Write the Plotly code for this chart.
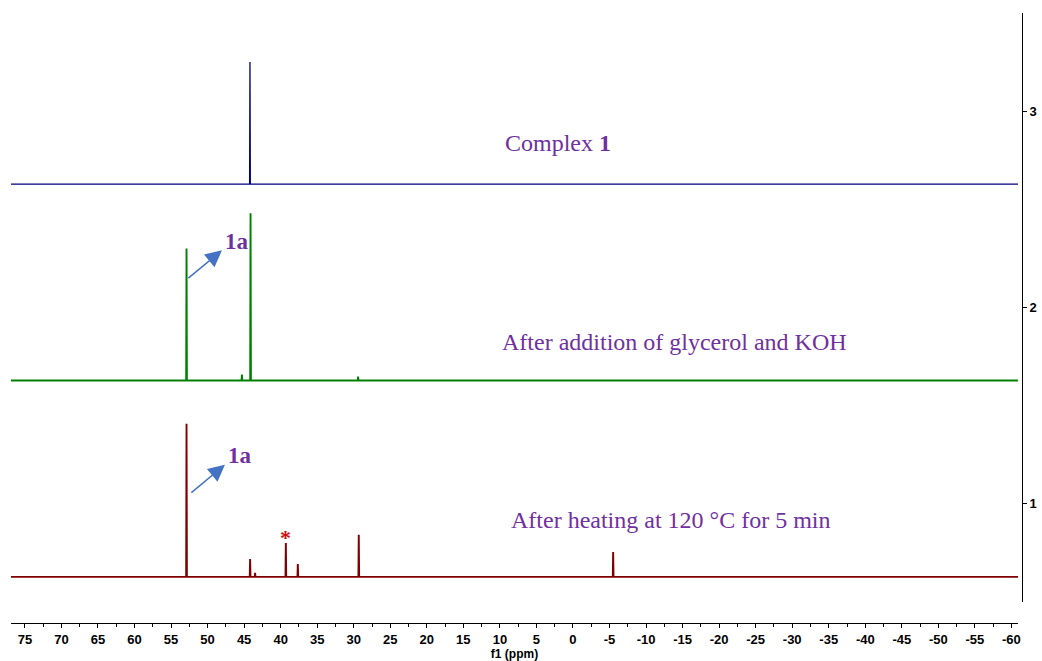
import plotly.graph_objects as go

# Chemical-shift window (ppm), plotted high -> low
ppm_left, ppm_right = 76.9, -60.9

# Stacked spectra: vertical offsets of each baseline
offsets = {"complex": 2.628, "glycerol": 1.628, "heated": 0.628}

# Peak positions (ppm) and intensities above the baseline
complex_ppm = [44.2]
complex_int = [0.622]

glycerol_ppm = [52.88, 45.3, 44.12, 29.4]
glycerol_int = [0.672, 0.03, 0.852, 0.02]

heated_ppm = [52.88, 44.18, 43.5, 39.29, 37.65, 29.31, -5.50]
heated_int = [0.780, 0.091, 0.02, 0.173, 0.066, 0.214, 0.127]

colors = {"complex": "#000080", "glycerol": "#008000", "heated": "#800000"}
widths = {"complex": 1.3, "glycerol": 1.9, "heated": 1.9}

x_tick_vals = list(range(75, -61, -5))
x_tick_text = [str(v) for v in x_tick_vals]  # plain hyphen for negatives
y_tick_vals = [1, 2, 3]

label_color = "#7030A0"
arrow_color = "#4472C4"
half_width = 0.05  # ppm, half base width of a peak


def spectrum_xy(ppm, inten, base):
    """Baseline with narrow spikes at each peak, ordered from high to low ppm."""
    xs, ys = [ppm_left], [base]
    for p, h in sorted(zip(ppm, inten), key=lambda t: -t[0]):
        xs += [p + half_width, p, p - half_width]
        ys += [base, base + h, base]
    xs.append(ppm_right)
    ys.append(base)
    return xs, ys


fig = go.Figure()
for key, ppm, inten in [("complex", complex_ppm, complex_int),
                        ("glycerol", glycerol_ppm, glycerol_int),
                        ("heated", heated_ppm, heated_int)]:
    xs, ys = spectrum_xy(ppm, inten, offsets[key])
    fig.add_trace(go.Scatter(x=xs, y=ys, mode="lines",
                             line=dict(color=colors[key], width=widths[key]),
                             showlegend=False, hoverinfo="skip"))

serif = "Liberation Serif, Times New Roman, serif"
sans_bold = dict(family="Liberation Sans, Arial, sans-serif", size=13,
                 color="black", weight="bold")
title_font = dict(family="Liberation Sans, Arial, sans-serif", size=12,
                  color="black", weight="bold")

annotations = [
    dict(x=2.08, y=2.838, text="Complex <b>1</b>"),
    dict(x=-13.93, y=1.822, text="After addition of glycerol and KOH"),
    dict(x=-13.45, y=0.919, text="After heating at 120 °C for 5 min"),
]
for a in annotations:
    fig.add_annotation(x=a["x"], y=a["y"], text=a["text"], showarrow=False,
                       xanchor="center", yanchor="middle",
                       font=dict(family=serif, size=24, color=label_color))

# "1a" labels with arrows pointing away from the product peak
for lx, ly, tip, tail in [(46.0, 2.336, (48.03, 2.291), (52.84, 2.143)),
                          (45.6, 1.245, (47.63, 1.199), (52.42, 1.051))]:
    fig.add_annotation(x=lx, y=ly, text="<b>1a</b>", showarrow=False,
                       xanchor="center", yanchor="middle",
                       font=dict(family=serif, size=23, color=label_color))
    fig.add_annotation(x=tip[0], y=tip[1], ax=tail[0], ay=tail[1],
                       xref="x", yref="y", axref="x", ayref="y", text="",
                       showarrow=True, arrowhead=2, arrowsize=2.2,
                       arrowwidth=1.5, arrowcolor=arrow_color, standoff=0)

# Asterisk marking the solvent/impurity peak
fig.add_annotation(x=39.29, y=0.828, text="<b>*</b>", showarrow=False,
                   xanchor="center", yanchor="middle",
                   font=dict(family=serif, size=22, color="#D01010"))

fig.update_layout(
    width=1042, height=661,
    margin=dict(l=11, r=20, t=13, b=38, autoexpand=False),
    paper_bgcolor="white", plot_bgcolor="white",
    xaxis=dict(
        range=[ppm_left, ppm_right], domain=[0, 0.99604],
        anchor="free", position=0, automargin=False,
        showline=True, linecolor="black", linewidth=1,
        showgrid=False, zeroline=False,
        tickmode="array", tickvals=x_tick_vals, ticktext=x_tick_text,
        ticks="outside", ticklen=4, tickcolor="black", tickwidth=1,
        minor=dict(ticks="outside", dtick=2.5, tick0=0, ticklen=3,
                   tickcolor="black", showgrid=False),
        tickfont=sans_bold,
        title=dict(text="f1 (ppm)", font=title_font, standoff=0),
    ),
    yaxis=dict(
        range=[0.5, 3.5], domain=[0.0344, 1], automargin=False,
        side="right", anchor="free", position=1,
        showline=True, linecolor="black", linewidth=1,
        showgrid=False, zeroline=False,
        tickmode="array", tickvals=y_tick_vals,
        ticks="outside", ticklen=4, tickcolor="black",
        tickfont=sans_bold,
    ),
)

fig.write_html("out.html")
